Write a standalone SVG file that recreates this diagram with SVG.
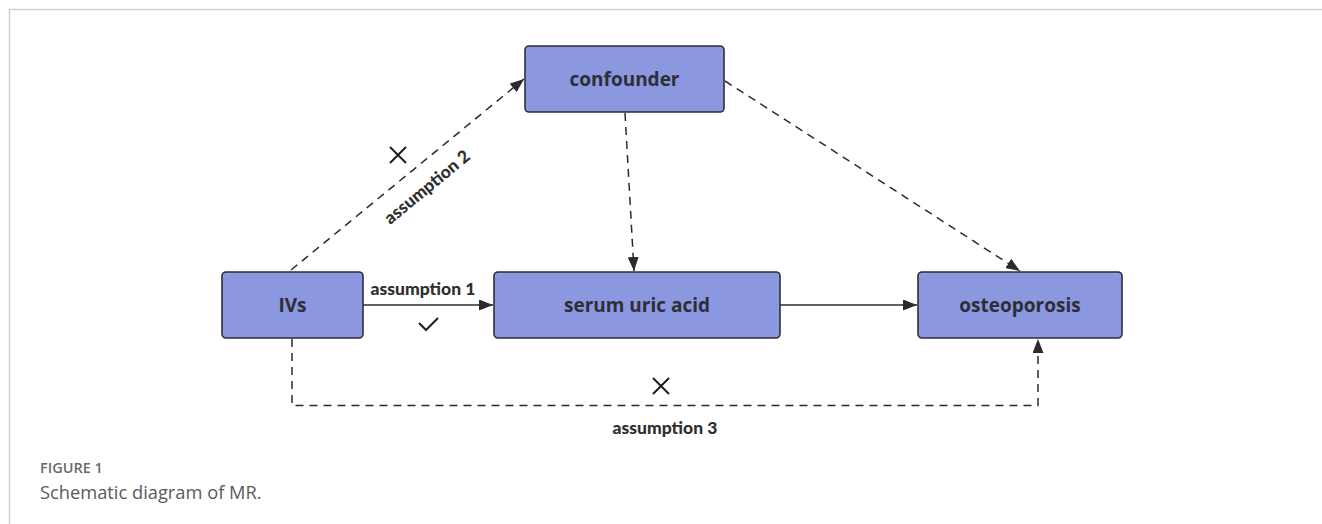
<svg xmlns="http://www.w3.org/2000/svg" width="1322" height="524" viewBox="0 0 1322 524">
<defs>
<marker id="ah" viewBox="0 0 14 11" refX="14" refY="5.5" markerWidth="14" markerHeight="11" markerUnits="userSpaceOnUse" orient="auto">
<path d="M0,0 L14,5.5 L0,11 Z" fill="#2b2b2b"/>
</marker>
<style>
.node rect{fill:#8b97de;stroke:#2e2e3a;stroke-width:1.6}
.node text{font-family:"Open Sans","Noto Sans",sans-serif;font-weight:bold;font-size:19px;fill:#2e2e36;text-anchor:middle;dominant-baseline:central}
.c{fill:none;stroke:#2b2b2b;stroke-width:1.5}
.d{stroke-dasharray:8 6}
.lbl{font-family:"Lato","DejaVu Sans",sans-serif;font-weight:900;font-size:17.5px;fill:#2e2e2e;text-anchor:middle}
.mk{fill:none;stroke:#1e1e1e;stroke-width:2}
</style>
</defs>
<rect x="0" y="0" width="1322" height="524" fill="#fff"/>
<path d="M9.5,524 V9.5 H1322" fill="none" stroke="#cfcfcf" stroke-width="1.5"/>
<g id="connectors">
<path class="c d" d="M291,270 L524,79" marker-end="url(#ah)"/>
<path class="c d" d="M625,113 L634,271" marker-end="url(#ah)"/>
<path class="c d" d="M725,81 L1020,271" marker-end="url(#ah)"/>
<path class="c" d="M363,305 L493,305" marker-end="url(#ah)"/>
<path class="c" d="M780,305 L917,305" marker-end="url(#ah)"/>
<path class="c d" d="M292,339 V405.5 H1038 V339" marker-end="url(#ah)"/>
</g>
<g id="labels">
<text class="lbl" x="423" y="295">assumption 1</text>
<text class="lbl" x="427" y="193" transform="rotate(-39.4 427 187)">assumption 2</text>
<text class="lbl" x="665" y="434">assumption 3</text>
<path class="mk" d="M390,147 L406,163 M406,147 L390,163"/>
<path class="mk" d="M653,378 L669,394 M669,378 L653,394"/>
<path class="mk" d="M419,323 L426,330 L438,318"/>
</g>
<g id="node-confounder" class="node">
<rect x="525" y="46" width="199" height="66" rx="4"/>
<text x="624.5" y="79">confounder</text>
</g>
<g id="node-ivs" class="node">
<rect x="222" y="272" width="141" height="66" rx="4"/>
<text x="292.5" y="305">IVs</text>
</g>
<g id="node-serum" class="node">
<rect x="494" y="272" width="286" height="66" rx="4"/>
<text x="637" y="305">serum uric acid</text>
</g>
<g id="node-osteoporosis" class="node">
<rect x="918" y="272" width="204" height="66" rx="4"/>
<text x="1020" y="305">osteoporosis</text>
</g>
<g id="caption">
<text x="40" y="473" font-family="Open Sans,sans-serif" font-weight="600" font-size="14.5" fill="#6a6a6a">FIGURE 1</text>
<text x="40" y="499" font-family="Open Sans,sans-serif" font-size="18.3" fill="#5a5a5a">Schematic diagram of MR.</text>
</g>
</svg>
